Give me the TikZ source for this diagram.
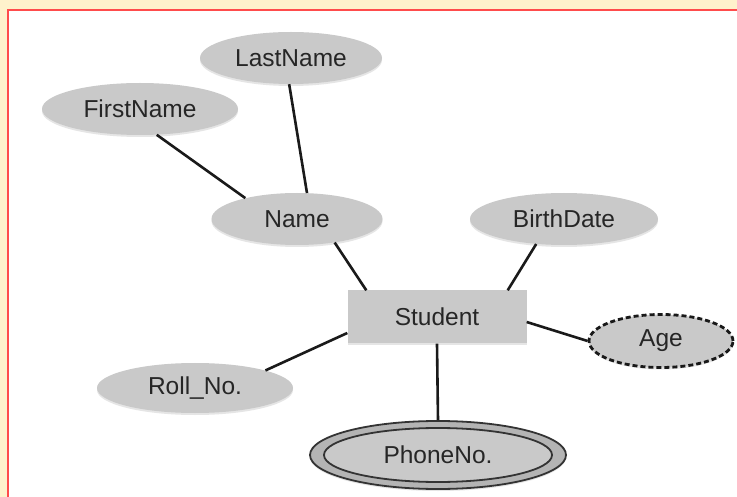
\documentclass[tikz,border=0pt]{standalone}
\usepackage{fontspec}
\setmainfont{Liberation Sans}
\usetikzlibrary{shapes.geometric,shadows}
\definecolor{cream}{HTML}{FFF2CC}
\definecolor{attrfill}{HTML}{C9C9C9}
\definecolor{ringfill}{HTML}{B4B4B4}
\definecolor{attrtext}{HTML}{262626}
\definecolor{edgeline}{HTML}{1A1A1A}
\tikzset{
  labelfont/.style={font=\fontsize{24.5}{28}\selectfont},
  attr/.style={ellipse, fill=attrfill, inner sep=0pt, text=attrtext, labelfont,
    drop shadow={shadow xshift=0pt, shadow yshift=-2pt, opacity=0.25, fill=black!40}},
  entity/.style={rectangle, fill=attrfill, inner sep=0pt, text=attrtext, labelfont,
    drop shadow={shadow xshift=0pt, shadow yshift=-2pt, opacity=0.25, fill=black!40}},
  derived/.style={attr, draw=black!90, line width=2.8pt, dash pattern=on 5pt off 3pt},
  link/.style={draw=edgeline, line width=2.6pt}
}
\begin{document}
\begin{tikzpicture}[x=1pt,y=-1pt]
  % page and framed panel
  \fill[cream] (0,0) rectangle (737,497);
  \useasboundingbox (0,0) rectangle (737,497);
  \draw[fill=white, draw=red!70, line width=1.6pt] (8,10) rectangle (745,505);

  % attributes and entity
  \node[attr, minimum width=182pt, minimum height=52pt] (last)  at (291,58)  {LastName};
  \node[attr, minimum width=196pt, minimum height=52pt] (first) at (140,109) {FirstName};
  \node[attr, minimum width=171pt, minimum height=52pt] (name)  at (297,219) {Name};
  \node[attr, minimum width=188pt, minimum height=52pt] (birth) at (564,219) {BirthDate};
  \node[entity, minimum width=179pt, minimum height=53pt] (student) at (437,317) {Student};
  \node[attr, minimum width=196pt, minimum height=50pt] (roll) at (195,388) {Roll\_No.};
  \node[derived, minimum width=144pt, minimum height=53pt] (age) at (661,341) {Age};

  % multivalued attribute: double outline
  \node[ellipse, fill=ringfill, draw=black!80, line width=1.8pt,
        minimum width=256pt, minimum height=68pt, inner sep=0pt,
        drop shadow={shadow xshift=0pt, shadow yshift=-2pt, opacity=0.25, fill=black!40}]
        (phoneouter) at (438,455) {};
  \node[ellipse, fill=attrfill, draw=black!80, line width=1.8pt,
        minimum width=228pt, minimum height=54pt, inner sep=0pt,
        text=attrtext, labelfont] (phone) at (438,455) {PhoneNo.};

  % connectors
  \draw[link] (first.-57) -- (name.158);
  \draw[link] (last.-94) -- (name.69);
  \draw[link] (name.-32) -- ([xshift=19pt]student.north west);
  \draw[link] (birth.-138) -- ([xshift=-19pt]student.north east);
  \draw[link] (roll.14) -- ([yshift=-16pt]student.west);
  \draw[link] ([yshift=-5pt]student.east) -- (age.west);
  \draw[link] (student.south) -- (phoneouter.north);
\end{tikzpicture}
\end{document}
